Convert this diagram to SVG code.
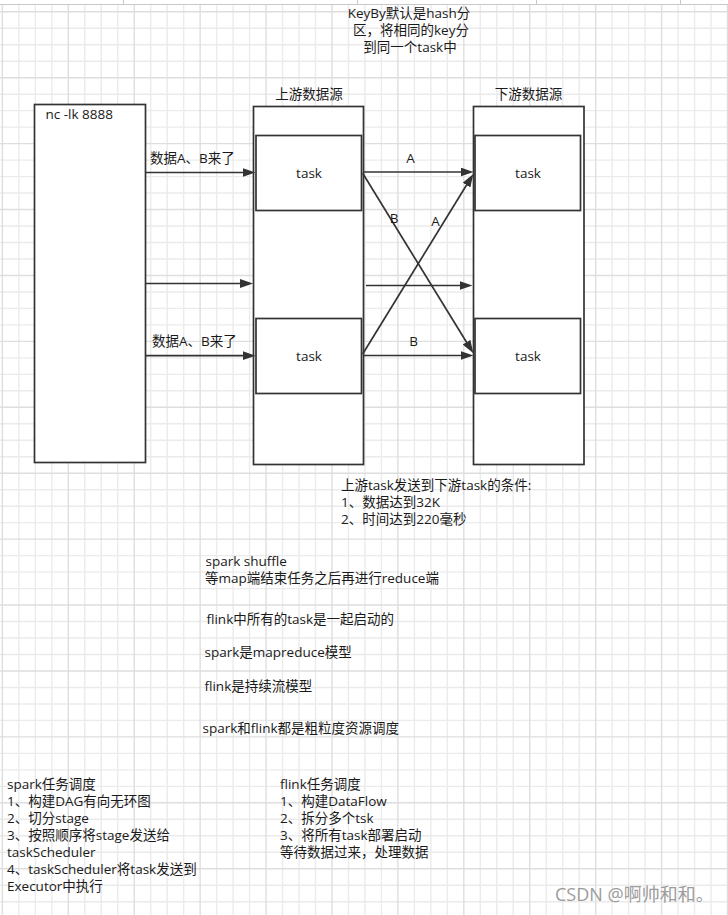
<svg xmlns="http://www.w3.org/2000/svg" width="728" height="915" viewBox="0 0 728 915">
<style>
  text { font-family: "Open Sans", "Noto Sans CJK SC", sans-serif; font-size: 13.5px; fill: #1a1a1a; }
  .box { fill: #ffffff; stroke: #333333; stroke-width: 1.7; }
  .edge { fill: none; stroke: #333333; stroke-width: 1.7; }
  .mid { text-anchor: middle; }
  .wm { font-size: 18px; fill: #9c9c9c; }
  .gmin { fill: none; stroke: #ebebeb; stroke-width: 1.4; }
  .gmaj { fill: none; stroke: #dedede; stroke-width: 1.4; }
</style>
<defs>
  <marker id="arrow" markerUnits="userSpaceOnUse" markerWidth="14" markerHeight="10" refX="3" refY="4.5" orient="auto">
    <path d="M0 0L13 4.5L0 9Z" fill="#333333"/>
  </marker>
</defs>

<rect x="0" y="0" width="728" height="915" fill="#ffffff"/>
<g id="grid">
  <path class="gmin" d="M18.86 4.5V915M35.34 4.5V915M51.82 4.5V915M84.78 4.5V915M101.26 4.5V915M117.74 4.5V915M150.7 4.5V915M167.18 4.5V915M183.66 4.5V915M216.62 4.5V915M233.1 4.5V915M249.58 4.5V915M282.54 4.5V915M299.02 4.5V915M315.5 4.5V915M348.46 4.5V915M364.94 4.5V915M381.42 4.5V915M414.38 4.5V915M430.86 4.5V915M447.34 4.5V915M480.3 4.5V915M496.78 4.5V915M513.26 4.5V915M546.22 4.5V915M562.7 4.5V915M579.18 4.5V915M612.14 4.5V915M628.62 4.5V915M645.1 4.5V915M678.06 4.5V915M694.54 4.5V915M711.02 4.5V915
  M0 28.26H728M0 44.74H728M0 61.22H728M0 94.18H728M0 110.66H728M0 127.14H728M0 160.1H728M0 176.58H728M0 193.06H728M0 226.02H728M0 242.5H728M0 258.98H728M0 291.94H728M0 308.42H728M0 324.9H728M0 357.86H728M0 374.34H728M0 390.82H728M0 423.78H728M0 440.26H728M0 456.74H728M0 489.7H728M0 506.18H728M0 522.66H728M0 555.62H728M0 572.1H728M0 588.58H728M0 621.54H728M0 638.02H728M0 654.5H728M0 687.46H728M0 703.94H728M0 720.42H728M0 753.38H728M0 769.86H728M0 786.34H728M0 819.3H728M0 835.78H728M0 852.26H728M0 885.22H728M0 901.7H728"/>
  <path class="gmaj" d="M2.38 4.5V915M68.3 4.5V915M134.22 4.5V915M200.14 4.5V915M266.06 4.5V915M331.98 4.5V915M397.9 4.5V915M463.82 4.5V915M529.74 4.5V915M595.66 4.5V915M661.58 4.5V915M727.5 4.5V915
  M0 11.78H728M0 77.7H728M0 143.62H728M0 209.54H728M0 275.46H728M0 341.38H728M0 407.3H728M0 473.22H728M0 539.14H728M0 605.06H728M0 670.98H728M0 736.9H728M0 802.82H728M0 868.74H728"/>
</g>
<g id="topbar" stroke="#c8c8c8" stroke-width="1">
  <line x1="0" y1="4.5" x2="728" y2="4.5"/>
  <line x1="123.5" y1="0" x2="123.5" y2="4"/>
  <line x1="357.5" y1="0" x2="357.5" y2="4"/>
  <line x1="536.5" y1="0" x2="536.5" y2="4"/>
  <line x1="680.5" y1="0" x2="680.5" y2="4"/>
</g>

<g id="keyby-note">
  <text x="409" y="18" class="mid">KeyBy默认是hash分</text>
  <text x="411" y="35" class="mid">区，将相同的key分</text>
  <text x="410" y="52" class="mid">到同一个task中</text>
</g>

<g id="nc">
  <rect class="box" x="34.5" y="104.5" width="111" height="358"/>
  <text x="45.5" y="119">nc -lk 8888</text>
</g>

<g id="upstream">
  <rect class="box" x="253.5" y="106.5" width="110" height="358"/>
  <text x="309" y="99" class="mid">上游数据源</text>
</g>
<g id="up-task-1">
  <rect class="box" x="256" y="135.5" width="105.5" height="75"/>
  <text x="309" y="178" class="mid">task</text>
</g>
<g id="up-task-2">
  <rect class="box" x="256" y="318.5" width="105.5" height="75"/>
  <text x="309" y="361" class="mid">task</text>
</g>

<g id="downstream">
  <rect class="box" x="473.5" y="106.5" width="110.5" height="358"/>
  <text x="528.5" y="99" class="mid">下游数据源</text>
</g>
<g id="down-task-1">
  <rect class="box" x="475" y="135.5" width="105.5" height="75"/>
  <text x="528" y="178" class="mid">task</text>
</g>
<g id="down-task-2">
  <rect class="box" x="475" y="318.5" width="105.5" height="75"/>
  <text x="528" y="361" class="mid">task</text>
</g>

<g id="connectors">
  <path class="edge" marker-end="url(#arrow)" d="M146 172.5H245.5"/>
  <path class="edge" marker-end="url(#arrow)" d="M146 283.5H243"/>
  <path class="edge" marker-end="url(#arrow)" d="M146 355.7H245.5"/>
  <path class="edge" marker-end="url(#arrow)" d="M363 172H463.5"/>
  <path class="edge" marker-end="url(#arrow)" d="M366 285.5H462.5"/>
  <path class="edge" marker-end="url(#arrow)" d="M363 355.5H463.5"/>
  <path class="edge" marker-end="url(#arrow)" d="M362.7 173.3L468.1 344.8"/>
  <path class="edge" marker-end="url(#arrow)" d="M362.7 354L468.1 182.5"/>
  <text x="150" y="163">数据A、B来了</text>
  <text x="152" y="346">数据A、B来了</text>
  <text x="410.5" y="163" class="mid">A</text>
  <text x="394" y="223" class="mid">B</text>
  <text x="435.5" y="226" class="mid">A</text>
  <text x="413.5" y="346" class="mid">B</text>
</g>

<g id="conditions">
  <text x="341" y="490">上游task发送到下游task的条件:</text>
  <text x="341" y="507">1、数据达到32K</text>
  <text x="341" y="524">2、时间达到220毫秒</text>
</g>

<g id="notes">
  <text x="205.5" y="566">spark shuffle</text>
  <text x="205" y="583">等map端结束任务之后再进行reduce端</text>
  <text x="206.5" y="624">flink中所有的task是一起启动的</text>
  <text x="204.5" y="657">spark是mapreduce模型</text>
  <text x="204.5" y="691">flink是持续流模型</text>
  <text x="202.5" y="733">spark和flink都是粗粒度资源调度</text>
</g>

<g id="spark-schedule">
  <text x="7" y="789">spark任务调度</text>
  <text x="7" y="806">1、构建DAG有向无环图</text>
  <text x="7" y="823">2、切分stage</text>
  <text x="7" y="840">3、按照顺序将stage发送给</text>
  <text x="7" y="857">taskScheduler</text>
  <text x="7" y="874">4、taskScheduler将task发送到</text>
  <text x="7" y="891">Executor中执行</text>
</g>

<g id="flink-schedule">
  <text x="280" y="789">flink任务调度</text>
  <text x="280" y="806">1、构建DataFlow</text>
  <text x="280" y="823">2、拆分多个tsk</text>
  <text x="280" y="840">3、将所有task部署启动</text>
  <text x="280" y="857">等待数据过来，处理数据</text>
</g>

<text x="555" y="901" class="wm">CSDN @啊帅和和。</text>
</svg>
